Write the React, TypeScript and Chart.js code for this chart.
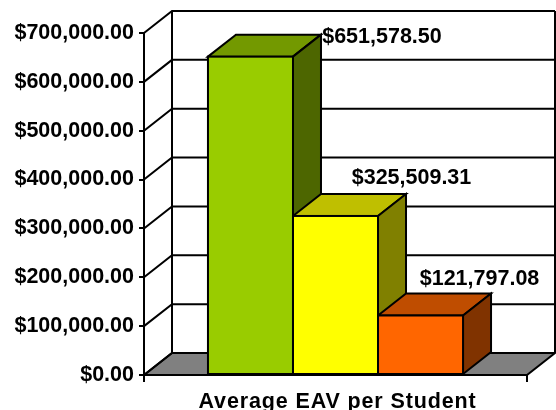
import React, { useEffect, useRef } from "react";
import { Chart, registerables, CategoryScale } from "chart.js";

const LABEL_SPACING = "0.87px";

class SpacedCategory extends CategoryScale {
  static id = "spacedCategory";
  static defaults = CategoryScale.defaults;
  drawLabels(area: any) {
    const c: any = this.ctx;
    c.save();
    c.letterSpacing = LABEL_SPACING;
    super.drawLabels(area);
    c.restore();
  }
}
Chart.register(...registerables, SpacedCategory);

const categories = ["Average EAV per Student"];
const seriesNames = ["A", "B", "C"];
const values = [651578.5, 325509.31, 121797.08];
const fronts = ["#99CC00", "#FFFF00", "#FF6600"];
const tops = ["#739900", "#BFBF00", "#BF4D00"];
const sides = ["#4D6600", "#808000", "#803300"];
const labelShifts = [[131.5, -14], [76, -32], [59, -30]];
const DX = 28;
const DY = 22;
const FONT = "bold 21.5px 'Liberation Sans', Arial, sans-serif";

const money = (v: number) =>
  "$" + v.toLocaleString("en-US", { minimumFractionDigits: 2, maximumFractionDigits: 2 });

const poly = (c: CanvasRenderingContext2D, pts: number[][], fill?: string) => {
  c.beginPath();
  pts.forEach((p, i) => (i ? c.lineTo(p[0], p[1]) : c.moveTo(p[0], p[1])));
  c.closePath();
  if (fill) {
    c.fillStyle = fill;
    c.fill();
  }
  c.stroke();
};

const box3d = {
  id: "box3d",
  beforeDraw(chart: any) {
    const { ctx: c, chartArea: a, scales } = chart;
    const y = scales.y;
    c.save();
    c.fillStyle = "#fff";
    c.fillRect(0, 0, chart.width, chart.height);
    c.strokeStyle = "#000";
    c.lineWidth = 2;
    c.lineJoin = "miter";
    poly(c, [[a.left, a.bottom], [a.left + DX, a.bottom - DY], [a.right + DX, a.bottom - DY], [a.right, a.bottom]], "#808080");
    y.ticks.forEach((t: any) => {
      const py = y.getPixelForValue(t.value);
      c.beginPath();
      c.moveTo(a.left, py);
      c.lineTo(a.left + DX, py - DY);
      c.lineTo(a.right + DX, py - DY);
      c.stroke();
    });
    c.beginPath();
    c.moveTo(a.left + DX, a.bottom - DY);
    c.lineTo(a.left + DX, a.top - DY);
    c.moveTo(a.right + DX, a.bottom - DY);
    c.lineTo(a.right + DX, a.top - DY);
    c.stroke();
    c.restore();
  },
  beforeDatasetsDraw(chart: any) {
    const c = chart.ctx;
    c.save();
    c.strokeStyle = "#000";
    c.lineWidth = 2;
    c.lineJoin = "miter";
    values.forEach((_, i) => {
      const b = chart.getDatasetMeta(i).data[0];
      const l = b.x - b.width / 2;
      const r = b.x + b.width / 2;
      poly(c, [[l, b.y], [l + DX, b.y - DY], [r + DX, b.y - DY], [r, b.y]], tops[i]);
      poly(c, [[r, b.y], [r + DX, b.y - DY], [r + DX, b.base - DY], [r, b.base]], sides[i]);
    });
    c.restore();
  },
  afterDatasetsDraw(chart: any) {
    const c = chart.ctx;
    c.save();
    c.strokeStyle = "#000";
    c.lineWidth = 2;
    values.forEach((v, i) => {
      const b = chart.getDatasetMeta(i).data[0];
      c.strokeRect(b.x - b.width / 2, b.y, b.width, b.base - b.y);
    });
    c.fillStyle = "#000";
    c.font = FONT;
    c.textAlign = "center";
    c.textBaseline = "alphabetic";
    values.forEach((v, i) => {
      const b = chart.getDatasetMeta(i).data[0];
      c.fillText(money(v), b.x + labelShifts[i][0], b.y + labelShifts[i][1]);
    });
    c.restore();
  },
};

export default function App() {
  const ref = useRef<HTMLCanvasElement>(null);
  useEffect(() => {
    document.body.style.margin = "0";
    const font = { family: "'Liberation Sans', Arial, sans-serif", size: 21.5, weight: "bold" as const };
    const chart = new Chart(ref.current!, {
      type: "bar",
      data: {
        labels: categories,
        datasets: values.map((v, i) => ({
          label: seriesNames[i],
          data: [v],
          backgroundColor: fronts[i],
          borderWidth: 0,
          barPercentage: 1,
          categoryPercentage: 0.666,
        })),
      },
      options: {
        responsive: false,
        animation: false,
        events: [],
        layout: { padding: { top: 33, right: 29, left: 0, bottom: 0 } },
        plugins: { legend: { display: false }, tooltip: { enabled: false }, title: { display: false } },
        scales: {
          x: {
            type: "spacedCategory" as any,
            offset: true,
            afterFit: (s: any) => { s.height = 35; },
            border: { color: "#000", width: 2 },
            grid: { offset: true, drawOnChartArea: false, color: "#000", lineWidth: 2, tickLength: 7 },
            ticks: { color: "#000", font, padding: 7, maxRotation: 0, labelOffset: 2 },
          },
          y: {
            min: 0,
            max: 700000,
            afterFit: (s: any) => { s.width = 144; },
            border: { color: "#000", width: 2 },
            grid: { drawOnChartArea: false, color: "#000", lineWidth: 2, tickLength: 5 },
            ticks: { color: "#000", font, padding: 5, stepSize: 100000, callback: (v: any) => money(Number(v)) },
          },
        },
      },
      plugins: [box3d],
    });
    return () => chart.destroy();
  }, []);
  return <canvas ref={ref} width={556} height={410} style={{ display: "block" }} />;
}
